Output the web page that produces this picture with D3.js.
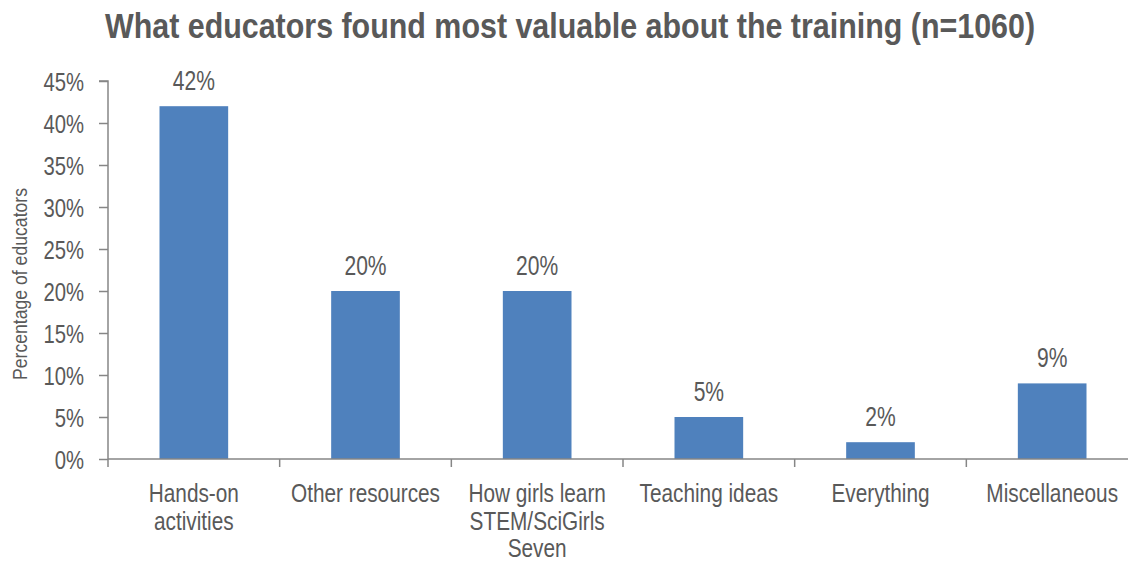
<!DOCTYPE html>
<html>
<head>
<meta charset="utf-8">
<script src="https://cdn.jsdelivr.net/npm/d3@7"></script>
<style>
  html, body { margin: 0; padding: 0; background: #fff; }
  svg { display: block; font-family: "Liberation Sans", Arial, sans-serif; }
</style>
</head>
<body>
<svg id="chart" width="1128" height="562"></svg>
<script>
// Survey results: share of educators naming each aspect as most valuable
const categories = [
  ["Hands-on", "activities"],
  ["Other resources"],
  ["How girls learn", "STEM/SciGirls", "Seven"],
  ["Teaching ideas"],
  ["Everything"],
  ["Miscellaneous"]
];
const values = [42, 20, 20, 5, 2, 9];
const yTicks = [0, 5, 10, 15, 20, 25, 30, 35, 40, 45];
const titleText = "What educators found most valuable about the training (n=1060)";
const yLabel = "Percentage of educators";

(function () {
const svg = d3.select("#chart");
const textColor = "#595959";
const axisColor = "#868686";
const barColor = "#4F81BD";
const narrow = 0.78; // horizontal squeeze for the narrow type face look

const plotLeft = 108, plotRight = 1138, plotTop = 81, plotBottom = 459;

// Text drawn in a condensed style: a group positioned at (x, y) and squeezed horizontally
function condensedText(parent, x, y, str, size, opts = {}) {
  const g = parent.append("g")
    .attr("transform", `translate(${x},${y}) ${opts.rotate ? `rotate(${opts.rotate})` : ""} scale(${opts.sx || narrow},1)`);
  g.append("text")
    .attr("text-anchor", opts.anchor || "middle")
    .attr("font-size", size)
    .attr("font-weight", opts.bold ? "bold" : null)
    .attr("fill", textColor)
    .text(str);
  return g;
}

const x = d3.scaleBand()
  .domain(d3.range(categories.length))
  .range([plotLeft, plotRight])
  .paddingInner(0.6)
  .paddingOuter(0.3);

// category width used for the tick marks between categories
const step = (plotRight - plotLeft) / categories.length;

const y = d3.scaleLinear().domain([0, 45]).range([plotBottom, plotTop]);

// Title
condensedText(svg, 570, 38, titleText, 36, { bold: true, sx: 0.845 });

// Y axis
const yAxis = svg.append("g")
  .attr("transform", `translate(${plotLeft},0)`)
  .call(d3.axisLeft(y).tickValues(yTicks).tickFormat(d => d + "%").tickSize(9).tickPadding(15));
yAxis.select(".domain").attr("stroke", axisColor).attr("stroke-width", 1.5).attr("d", `M-9,${plotTop}H0V${plotBottom}`);
yAxis.selectAll(".tick line").attr("stroke", axisColor).attr("stroke-width", 1.5);
yAxis.selectAll(".tick text")
  .attr("x", -24 / narrow)
  .attr("dy", "0.35em")
  .attr("transform", `scale(${narrow},1)`)
  .attr("font-size", 26)
  .attr("fill", textColor)
  .attr("font-family", "Liberation Sans, Arial, sans-serif");

// Y axis label
condensedText(svg, 27, 284, yLabel, 21, { rotate: -90, sx: 0.84 });

// Bars
svg.append("g").selectAll("rect")
  .data(values)
  .join("rect")
  .attr("x", (d, i) => x(i))
  .attr("width", x.bandwidth())
  .attr("y", d => y(d))
  .attr("height", d => y(0) - y(d))
  .attr("fill", barColor);

// Value labels
const valueLayer = svg.append("g");
values.forEach((d, i) => {
  condensedText(valueLayer, x(i) + x.bandwidth() / 2, y(d) - 16, d + "%", 27);
});

// X axis line and category ticks
const xAxis = svg.append("g");
xAxis.append("line")
  .attr("x1", plotLeft).attr("x2", plotRight)
  .attr("y1", plotBottom).attr("y2", plotBottom)
  .attr("stroke", axisColor).attr("stroke-width", 1.5);
xAxis.selectAll("line.tick")
  .data(d3.range(categories.length + 1))
  .join("line")
  .attr("class", "tick")
  .attr("x1", i => plotLeft + i * step).attr("x2", i => plotLeft + i * step)
  .attr("y1", plotBottom).attr("y2", plotBottom + 8)
  .attr("stroke", axisColor).attr("stroke-width", 1.5);

// Category labels
categories.forEach((lines, i) => {
  lines.forEach((line, j) => {
    condensedText(xAxis, x(i) + x.bandwidth() / 2, 502 + j * 27.5, line, 26, { sx: 0.8 });
  });
});
})();
</script>
</body>
</html>
